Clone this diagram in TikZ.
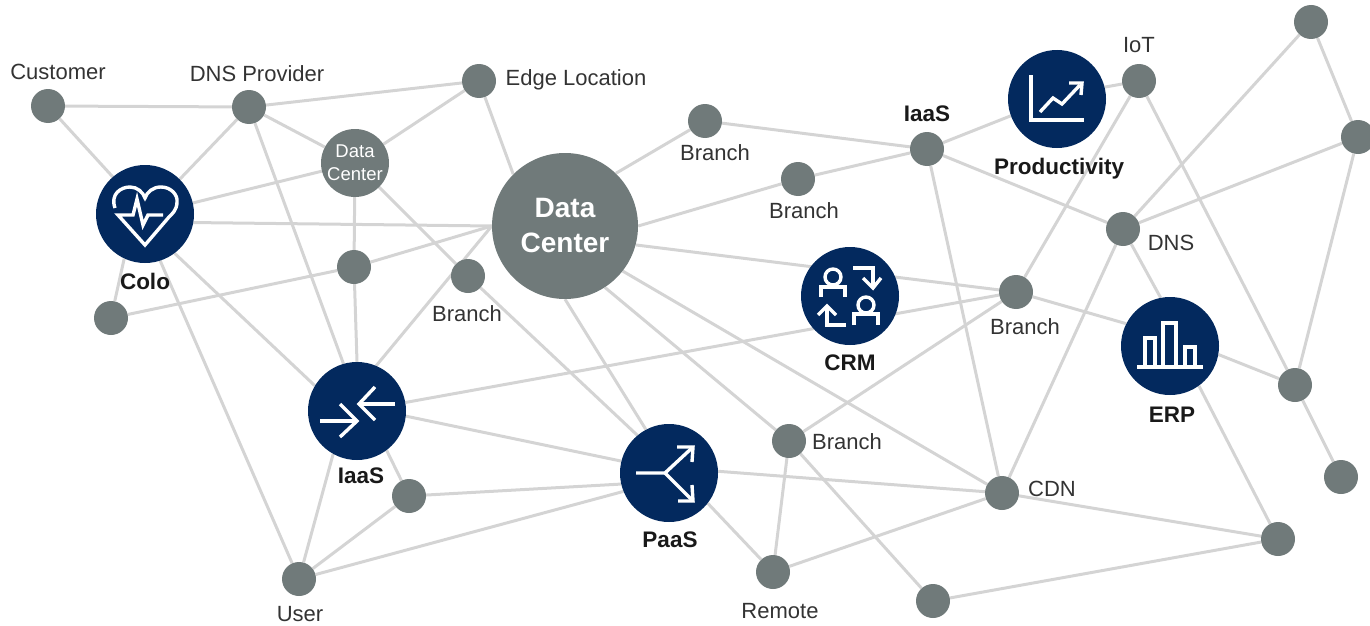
\documentclass[tikz,border=0pt]{standalone}
\usepackage{fontspec}
\usetikzlibrary{backgrounds}
\setmainfont{Liberation Sans}
\definecolor{navy}{HTML}{03295E}
\definecolor{slate}{HTML}{707A7A}
\definecolor{wire}{HTML}{D4D4D4}
\tikzset{
    hub/.style={circle,fill=navy,minimum size=98pt,inner sep=0pt},
    dot/.style={circle,fill=slate,minimum size=34pt,inner sep=0pt},
    link/.style={draw=wire,line width=3pt},
    tag/.style={inner sep=0pt,text=black!80,font=\fontsize{22}{26}\selectfont},
    boldtag/.style={inner sep=0pt,text=black!90,font=\fontsize{22.5}{26}\selectfont\bfseries},
    icon/.style={draw=white,line width=3.4pt,line join=miter}
}
\begin{document}
\begin{tikzpicture}[x=1pt,y=-1pt]
    \useasboundingbox (0,0) rectangle (1370,626);
    % hubs
    \node[hub] (colo) at (145,214) {};
    \node[hub] (iaas) at (357,411) {};
    \node[hub] (paas) at (669,473) {};
    \node[hub] (crm) at (850,296) {};
    \node[hub] (prod) at (1057,99) {};
    \node[hub] (erp) at (1170,346) {};
    % data centers
    \node[circle,fill=slate,minimum size=146pt,inner sep=0pt,text=white,align=center,
        font=\fontsize{28}{35}\selectfont\bfseries] (bigdc) at (565,226) {Data\\Center};
    \node[circle,fill=slate,minimum size=68pt,inner sep=0pt,text=white,align=center,
        font=\fontsize{18.5}{23}\selectfont] (smalldc) at (355,163) {Data\\Center};
    % small dots
    \node[dot] (customer) at (48,106) {};
    \node[dot] (dnsprov) at (249,107) {};
    \node[dot] (edge) at (479,81) {};
    \node[dot] (midA) at (354,267) {};
    \node[dot] (leftA) at (111,318) {};
    \node[dot] (branchA) at (468,276) {};
    \node[dot] (branchB) at (705,121) {};
    \node[dot] (branchC) at (798,179) {};
    \node[dot] (branchD) at (1016,292) {};
    \node[dot] (branchE) at (789,441) {};
    \node[dot] (iaastop) at (927,149) {};
    \node[dot] (iot) at (1139,81) {};
    \node[dot] (topR) at (1311,22) {};
    \node[dot] (sideR) at (1358,137) {};
    \node[dot] (dns) at (1123,229) {};
    \node[dot] (cdn) at (1002,493) {};
    \node[dot] (lowR) at (1295,385) {};
    \node[dot] (lowerR) at (1341,477) {};
    \node[dot] (cornerR) at (1278,539) {};
    \node[dot] (bottom) at (933,601) {};
    \node[dot] (remote) at (773,572) {};
    \node[dot] (user) at (299,579) {};
    \node[dot] (lowL) at (409,496) {};
    % connectors
    \begin{scope}[on background layer]
    \draw[link] (customer) -- (dnsprov);
    \draw[link] (customer) -- (colo.131);
    \draw[link] (dnsprov) -- (colo.45);
    \draw[link] (dnsprov) -- (edge);
    \draw[link] (dnsprov) -- (smalldc);
    \draw[link] (dnsprov) -- (iaas.106);
    \draw[link] (edge) -- (smalldc);
    \draw[link] (edge) -- (bigdc.135);
    \draw[link] (colo.13) -- (smalldc);
    \draw[link] (colo.-10) -- (bigdc.180);
    \draw[link] (colo.-53) -- (iaas.149);
    \draw[link] (colo.-115) -- (leftA);
    \draw[link] (colo.-72) -- (user);
    \draw[link] (smalldc) -- (midA);
    \draw[link] (smalldc) -- (branchA);
    \draw[link] (midA) -- (iaas.90);
    \draw[link] (leftA) -- (midA);
    \draw[link] (midA) -- (bigdc.180);
    \draw[link] (iaas.67) -- (bigdc.180);
    \draw[link] (branchA) -- (paas.130);
    \draw[link] (bigdc.-90) -- (paas.118);
    \draw[link] (bigdc.46) -- (branchB);
    \draw[link] (bigdc.0) -- (branchC);
    \draw[link] (bigdc.-15) -- (branchD);
    \draw[link] (bigdc.-57) -- (branchE);
    \draw[link] (bigdc.-38) -- (cdn);
    \draw[link] (branchB) -- (iaastop);
    \draw[link] (branchC) -- (iaastop);
    \draw[link] (iaastop) -- (prod.200);
    \draw[link] (iaastop) -- (dns);
    \draw[link] (iaastop) -- (cdn);
    \draw[link] (prod.14) -- (iot);
    \draw[link] (iot) -- (branchD);
    \draw[link] (iot) -- (lowR);
    \draw[link] (topR) -- (dns);
    \draw[link] (topR) -- (sideR);
    \draw[link] (sideR) -- (dns);
    \draw[link] (sideR) -- (lowR);
    \draw[link] (dns) -- (erp.101);
    \draw[link] (dns) -- (cdn);
    \draw[link] (iaas.10) -- (branchD);
    \draw[link] (branchD) -- (erp.153);
    \draw[link] (branchD) -- (branchE);
    \draw[link] (iaas.-6) -- (paas.166);
    \draw[link] (iaas.-53) -- (lowL);
    \draw[link] (iaas.-119) -- (user);
    \draw[link] (lowL) -- (paas.-167);
    \draw[link] (lowL) -- (user);
    \draw[link] (user) -- (paas.-158);
    \draw[link] (paas.2) -- (cdn);
    \draw[link] (paas.-38) -- (remote);
    \draw[link] (branchE) -- (remote);
    \draw[link] (branchE) -- (bottom);
    \draw[link] (remote) -- (cdn);
    \draw[link] (cdn) -- (cornerR);
    \draw[link] (bottom) -- (cornerR);
    \draw[link] (erp.-10) -- (lowR);
    \draw[link] (erp.-54) -- (cornerR);
    \draw[link] (lowR) -- (lowerR);
    \end{scope}
    % labels
    \node[tag] (lblcustomer) at (58,72) {Customer};
    \node[tag] (lbldnsprov) at (257,74) {DNS Provider};
    \node[tag] (lbledge) at (576,80) {Edge Location};
    \node[tag] (lblbranchA) at (467,314) {Branch};
    \node[tag] (lblbranchB) at (715,153) {Branch};
    \node[tag] (lblbranchC) at (804,211) {Branch};
    \node[tag] (lblbranchD) at (1025,327) {Branch};
    \node[tag] (lblbranchE) at (847,442) {Branch};
    \node[tag] (lbliot) at (1139,45) {IoT};
    \node[tag] (lbldns) at (1171,243) {DNS};
    \node[tag] (lblcdn) at (1052,489) {CDN};
    \node[tag] (lbluser) at (300,614) {User};
    \node[tag] (lblremote) at (780,611) {Remote};
    \node[boldtag] (lblcolo) at (145,281) {Colo};
    \node[boldtag] (lbliaas) at (361,476) {IaaS};
    \node[boldtag] (lblpaas) at (670,540) {PaaS};
    \node[boldtag] (lblcrm) at (850,363) {CRM};
    \node[boldtag] (lblerp) at (1172,415) {ERP};
    \node[boldtag] (lblprod) at (1059,169) {Productivity};
    \node[boldtag] (lbliaastop) at (927,114) {IaaS};
    % heart icon
    \begin{scope}[shift={(colo)},icon]
        \draw (-30,-6) .. controls (-35,-20) and (-24,-27) .. (-15,-27)
            .. controls (-8,-27) and (-2,-22) .. (0,-16)
            .. controls (2,-22) and (8,-27) .. (16,-27)
            .. controls (26,-27) and (33,-19) .. (32,-12)
            .. controls (32,-4) and (27,0) .. (24,3)
            -- (0,31) -- (-27,1) -- (-12,1) -- (-8,-15) -- (-2,11) -- (3,1) -- (18,1);
    \end{scope}
    % arrows icon
    \begin{scope}[shift={(iaas)},icon]
        \draw (-37,10) -- (0,10);
        \draw (-17,-7) -- (0,10) -- (-17,26);
        \draw (38,-7) -- (2,-7);
        \draw (18,-24) -- (2,-7) -- (18,9);
    \end{scope}
    % fork icon
    \begin{scope}[shift={(paas)},icon]
        \draw (-33,0) -- (-4,0) -- (24,-26);
        \draw (-4,0) -- (24,28);
        \draw (8,-26) -- (24,-26) -- (23,-11);
        \draw (9,28) -- (24,28) -- (23,12);
    \end{scope}
    % people icon
    \begin{scope}[shift={(crm)},icon]
        \draw (-17,-19) circle (8);
        \draw (-29,1) -- (-29,-9) -- (-5,-9) -- (-5,1);
        \draw (16,9) circle (8);
        \draw (4,29) -- (4,18) -- (28,18) -- (28,29);
        \draw (3,-28) -- (23,-28) -- (23,-9);
        \draw (13,-18) -- (23,-8) -- (31,-18);
        \draw (-4,29) -- (-23,29) -- (-23,11);
        \draw (-32,19) -- (-23,10) -- (-14,19);
    \end{scope}
    % chart icon
    \begin{scope}[shift={(prod)},icon]
        \draw (-26,-24) -- (-26,21) -- (27,21);
        \draw (-17,13) -- (-4,-1) -- (5,5) -- (23,-14);
        \draw (12,-16) -- (25,-16) -- (24,-4);
    \end{scope}
    % bars icon
    \begin{scope}[shift={(erp)},icon]
        \draw (-33,21) -- (33,21);
        \draw (-25,21) -- (-25,-8) -- (-15,-8) -- (-15,21);
        \draw (-7,21) -- (-7,-23) -- (6,-23) -- (6,21);
        \draw (15,21) -- (15,1) -- (25,1) -- (25,21);
    \end{scope}
\end{tikzpicture}
\end{document}
